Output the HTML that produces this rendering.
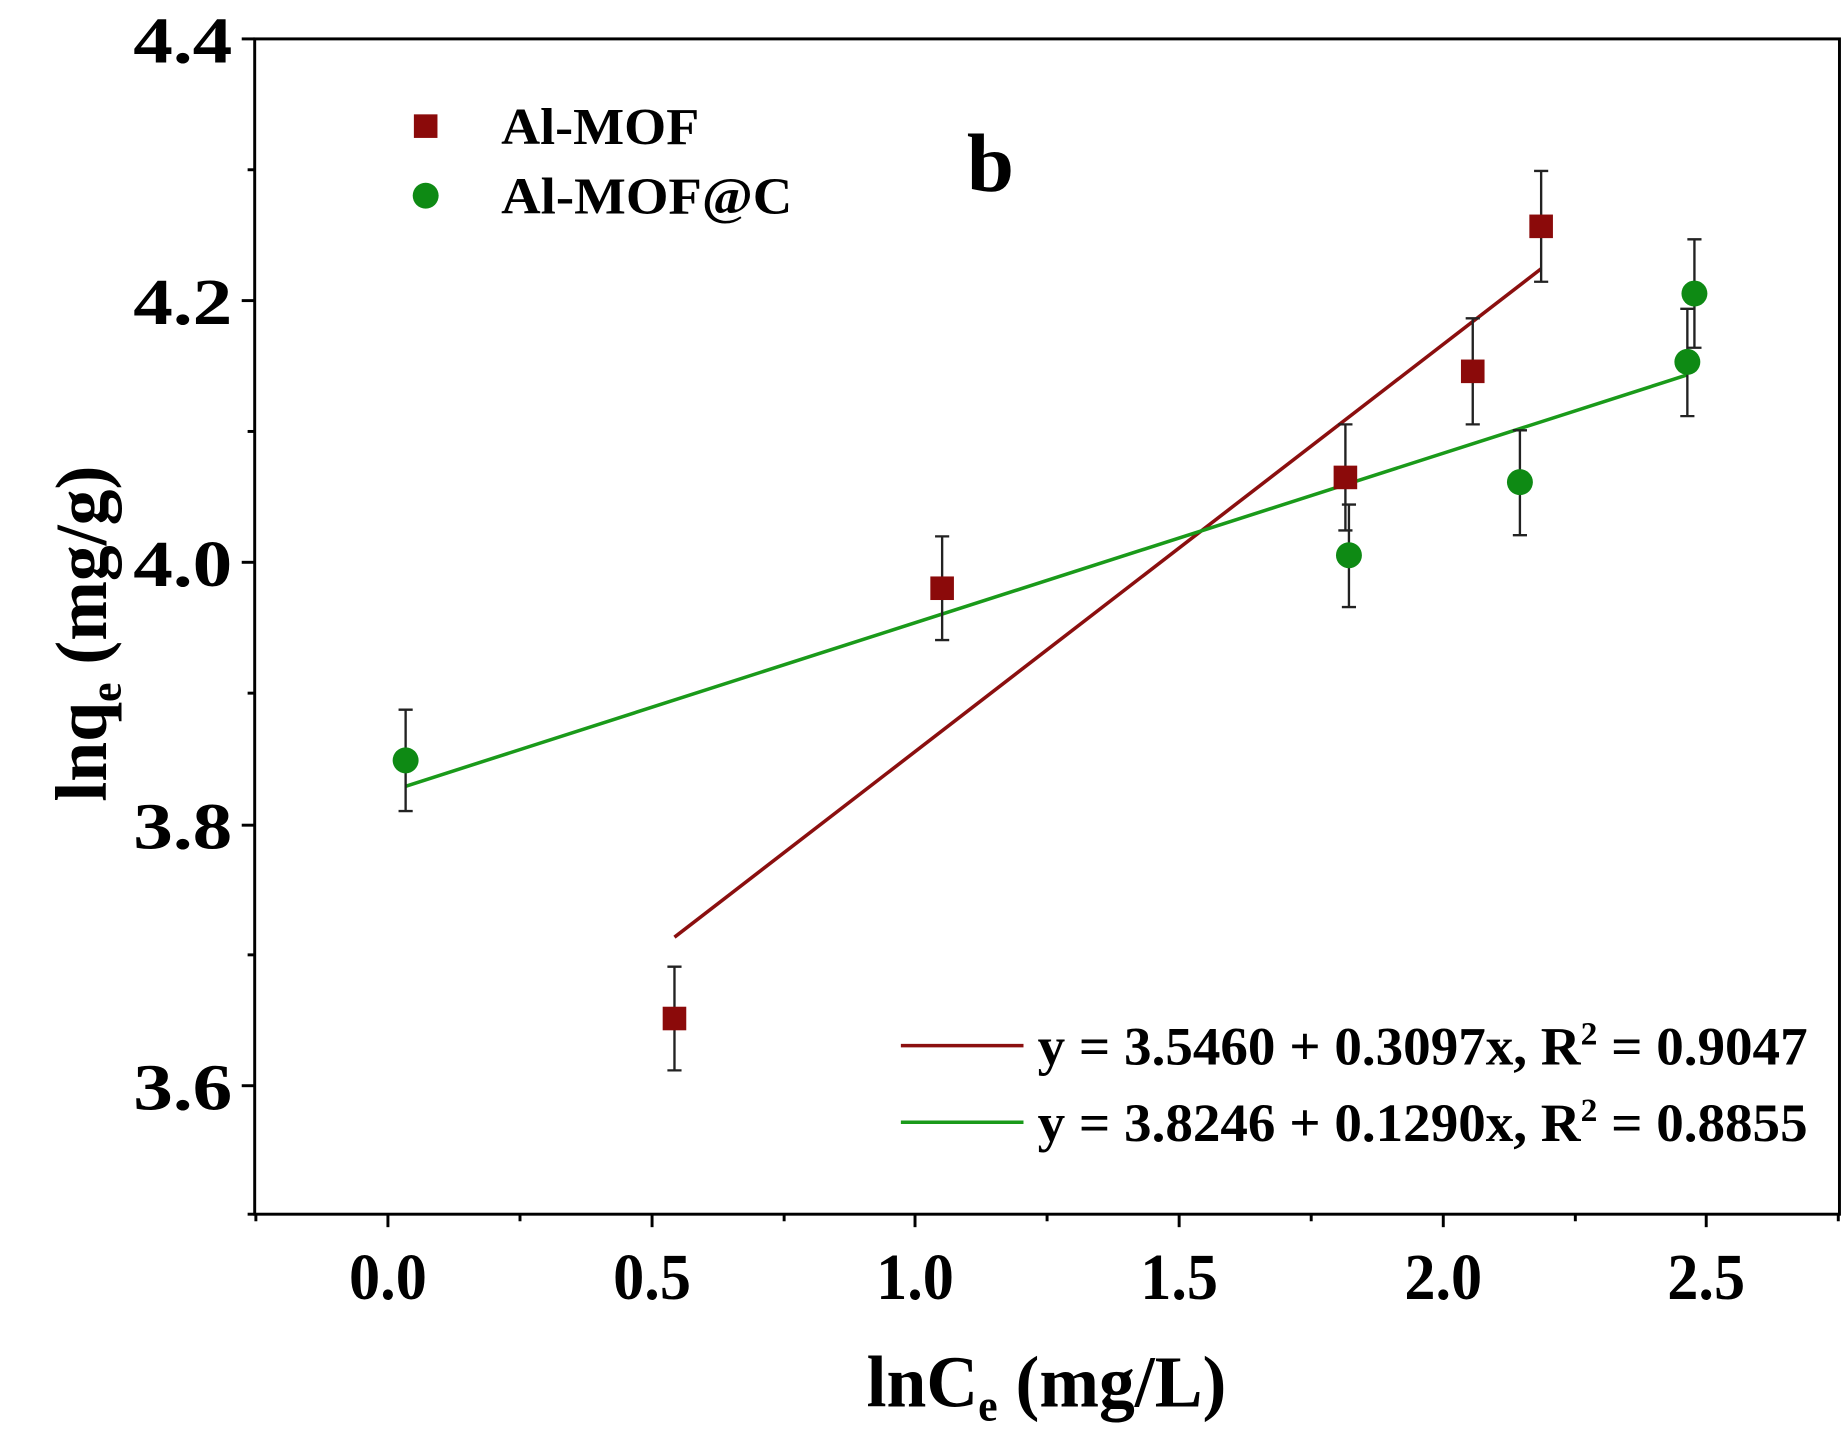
<!DOCTYPE html>
<html><head><style>html,body{margin:0;padding:0;background:#fff}</style></head>
<body>
<svg width="1843" height="1437" viewBox="0 0 1563 1219" preserveAspectRatio="none" xmlns="http://www.w3.org/2000/svg" font-family="Liberation Serif, serif" font-weight="bold">
<rect x="216" y="33" width="1344" height="997" fill="none" stroke="#000" stroke-width="2.5"/>
<g stroke="#000" stroke-width="2.5">
<line x1="205" y1="33" x2="216" y2="33"/><line x1="205" y1="255" x2="216" y2="255"/><line x1="205" y1="477" x2="216" y2="477"/><line x1="205" y1="700" x2="216" y2="700"/><line x1="205" y1="921" x2="216" y2="921"/>
<line x1="210" y1="144" x2="216" y2="144"/><line x1="210" y1="366" x2="216" y2="366"/><line x1="210" y1="588" x2="216" y2="588"/><line x1="210" y1="810" x2="216" y2="810"/><line x1="210" y1="1030" x2="216" y2="1030"/>
<line x1="329" y1="1030" x2="329" y2="1041"/><line x1="553" y1="1030" x2="553" y2="1041"/><line x1="776" y1="1030" x2="776" y2="1041"/><line x1="1000" y1="1030" x2="1000" y2="1041"/><line x1="1224" y1="1030" x2="1224" y2="1041"/><line x1="1447" y1="1030" x2="1447" y2="1041"/>
<line x1="217" y1="1030" x2="217" y2="1036"/><line x1="441" y1="1030" x2="441" y2="1036"/><line x1="665" y1="1030" x2="665" y2="1036"/><line x1="888" y1="1030" x2="888" y2="1036"/><line x1="1112" y1="1030" x2="1112" y2="1036"/><line x1="1336" y1="1030" x2="1336" y2="1036"/><line x1="1559" y1="1030" x2="1559" y2="1036"/>
</g>
<g font-size="56" lengthAdjust="spacingAndGlyphs">
<text x="113" y="53" textLength="84" lengthAdjust="spacingAndGlyphs">4.4</text>
<text x="113" y="275" textLength="84" lengthAdjust="spacingAndGlyphs">4.2</text>
<text x="113" y="497" textLength="84" lengthAdjust="spacingAndGlyphs">4.0</text>
<text x="113" y="720" textLength="84" lengthAdjust="spacingAndGlyphs">3.8</text>
<text x="113" y="941" textLength="84" lengthAdjust="spacingAndGlyphs">3.6</text>
</g>
<g font-size="56">
<text x="296" y="1102" textLength="66" lengthAdjust="spacingAndGlyphs">0.0</text>
<text x="520" y="1102" textLength="66" lengthAdjust="spacingAndGlyphs">0.5</text>
<text x="743" y="1102" textLength="66" lengthAdjust="spacingAndGlyphs">1.0</text>
<text x="967" y="1102" textLength="66" lengthAdjust="spacingAndGlyphs">1.5</text>
<text x="1191" y="1102" textLength="66" lengthAdjust="spacingAndGlyphs">2.0</text>
<text x="1414" y="1102" textLength="66" lengthAdjust="spacingAndGlyphs">2.5</text>
</g>
<text x="735" y="1193" font-size="62" textLength="305" lengthAdjust="spacingAndGlyphs">lnC<tspan font-size="38" dy="12">e</tspan><tspan dy="-12"> (mg/L)</tspan></text>
<text transform="translate(90,680) rotate(-90)" font-size="62" textLength="285" lengthAdjust="spacingAndGlyphs">lnq<tspan font-size="38" dy="12">e</tspan><tspan dy="-12"> (mg/g)</tspan></text>
<line x1="572" y1="795" x2="1307" y2="228" stroke="#8b0f0f" stroke-width="3"/>
<line x1="344" y1="667" x2="1431" y2="318" stroke="#1a9a1a" stroke-width="3"/>
<g stroke="#222" stroke-width="2">
<path d="M572 820V908M566 820H578M566 908H578"/>
<path d="M799 455V543M793 455H805M793 543H805"/>
<path d="M1141 360V450M1135 360H1147M1135 450H1147"/>
<path d="M1249 270V360M1243 270H1255M1243 360H1255"/>
<path d="M1307 145V239M1301 145H1313M1301 239H1313"/>
<path d="M344 602V688M338 602H350M338 688H350"/>
<path d="M1144 428V515M1138 428H1150M1138 515H1150"/>
<path d="M1289 365V454M1283 365H1295M1283 454H1295"/>
<path d="M1431 262V353M1425 262H1437M1425 353H1437"/>
<path d="M1437 203V295M1431 203H1443M1431 295H1443"/>
</g>
<g fill="#8b0a0a">
<rect x="562" y="854" width="20" height="20"/><rect x="789" y="489" width="20" height="20"/><rect x="1131" y="395" width="20" height="20"/><rect x="1239" y="305" width="20" height="20"/><rect x="1297" y="182" width="20" height="20"/>
<rect x="351" y="97" width="20" height="20"/>
</g>
<g fill="#0e8a14">
<circle cx="344" cy="645" r="11"/><circle cx="1144" cy="471" r="11"/><circle cx="1289" cy="409" r="11"/><circle cx="1431" cy="307" r="11"/><circle cx="1437" cy="249" r="11"/>
<circle cx="361" cy="166" r="11"/>
</g>
<text x="425" y="122" font-size="44" textLength="168" lengthAdjust="spacingAndGlyphs">Al-MOF</text>
<text x="425" y="181" font-size="44" textLength="247" lengthAdjust="spacingAndGlyphs">Al-MOF@C</text>
<text x="820" y="162" font-size="70" textLength="40" lengthAdjust="spacingAndGlyphs">b</text>
<line x1="764" y1="887" x2="868" y2="887" stroke="#8b0f0f" stroke-width="3"/>
<line x1="764" y1="952" x2="868" y2="952" stroke="#1a9a1a" stroke-width="3"/>
<text x="880" y="903" font-size="46" textLength="653" lengthAdjust="spacingAndGlyphs">y = 3.5460 + 0.3097x, R<tspan font-size="28" dy="-17">2</tspan><tspan dy="17"> = 0.9047</tspan></text>
<text x="880" y="968" font-size="46" textLength="653" lengthAdjust="spacingAndGlyphs">y = 3.8246 + 0.1290x, R<tspan font-size="28" dy="-17">2</tspan><tspan dy="17"> = 0.8855</tspan></text>
</svg>
</body></html>
